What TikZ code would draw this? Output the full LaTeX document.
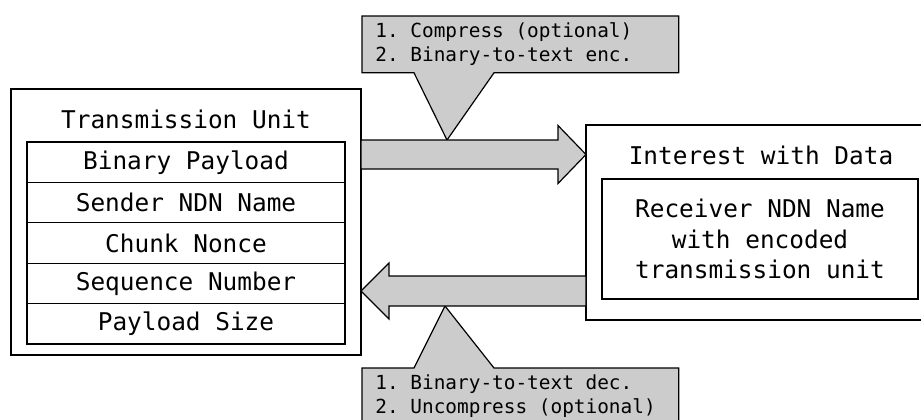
\documentclass[tikz,border=0pt]{standalone}
\usepackage{fontspec}
\setmonofont{DejaVu Sans Mono}
\usetikzlibrary{positioning,calc,backgrounds}
\definecolor{shade}{HTML}{CCCCCC}
\newcommand{\boxfont}{\ttfamily\fontsize{12.2}{15.3}\selectfont}
\newcommand{\notefont}{\ttfamily\fontsize{9.7}{12}\selectfont}
\tikzset{
  frame/.style={rectangle, draw=black, fill=white, line width=0.6pt, outer sep=0pt, inner sep=0pt},
  field/.style={frame, minimum width=159pt, minimum height=20.2pt, font=\boxfont},
  title/.style={font=\boxfont, inner sep=0pt},
  note/.style={align=flush left, text width=145pt, inner xsep=6.5pt, inner ysep=0pt, minimum height=28pt, font=\notefont},
  notebox/.style={draw=black, fill=shade, line width=0.6pt, line join=miter},
  block/.style={draw=black, fill=shade, line width=0.6pt, line join=miter}
}
\begin{document}
\begin{tikzpicture}[x=0.5pt, y=-0.5pt]
 \useasboundingbox (0,0) rectangle (921,419);
 % transmission unit
 \node[frame, minimum width=175pt, minimum height=133pt] (tu) at (186,222) {};
 \node[title] (tut) at (186,119) {Transmission Unit};
 \node[field] (pl) at (186,162.2) {Binary Payload};
 \node[field, below=0pt of pl] (snd) {Sender NDN Name};
 \node[field, below=0pt of snd] (cn) {Chunk Nonce};
 \node[field, below=0pt of cn] (seq) {Sequence Number};
 \node[field, below=0pt of seq] (sz) {Payload Size};
 % interest with data
 \node[frame, minimum width=175pt, minimum height=97.5pt] (ida) at (761,222.5) {};
 \node[title] (idat) at (761,155) {Interest with Data};
 \node[frame, minimum width=158pt, minimum height=60pt, align=center, font=\boxfont] (rcv) at (760,239)
   {Receiver NDN Name\\with encoded\\transmission unit};
 % block arrows
 \path (tu.east |- 0,154.5) coordinate (fs) (ida.west |- 0,154.5) coordinate (fe);
 \path (ida.west |- 0,291) coordinate (bs) (tu.east |- 0,291) coordinate (be);
 \draw[block] ($(fs)+(0,-14.5)$) -- ($(fe)+(-28,-14.5)$) -- ($(fe)+(-28,-29)$) -- (fe)
   -- ($(fe)+(-28,29)$) -- ($(fe)+(-28,14.5)$) -- ($(fs)+(0,14.5)$) -- cycle;
 \draw[block] ($(bs)+(0,-15)$) -- ($(be)+(28,-15)$) -- ($(be)+(28,-28)$) -- (be)
   -- ($(be)+(28,28)$) -- ($(be)+(28,15)$) -- ($(bs)+(0,15)$) -- cycle;
 \coordinate (enctip) at ($(fs)+(86,-14.5)$);
 \coordinate (dectip) at ($(be)+(84,15)$);
 % callouts
 \node[note, anchor=north west] (enc) at (362,16) {1. Compress (optional)\\2. Binary-to-text enc.};
 \node[note, anchor=north west] (dec) at (362,368) {1. Binary-to-text dec.\\2. Uncompress (optional)};
 \begin{scope}[on background layer]
  \draw[notebox] (enc.north west) -- (enc.north east) -- (enc.south east) -- ([xshift=66pt]enc.south west)
    -- (enctip) -- ([xshift=26pt]enc.south west) -- (enc.south west) -- cycle;
  \draw[notebox] (dec.south west) -- (dec.south east) -- (dec.north east) -- ([xshift=66pt]dec.north west)
    -- (dectip) -- ([xshift=26pt]dec.north west) -- (dec.north west) -- cycle;
 \end{scope}
\end{tikzpicture}
\end{document}
